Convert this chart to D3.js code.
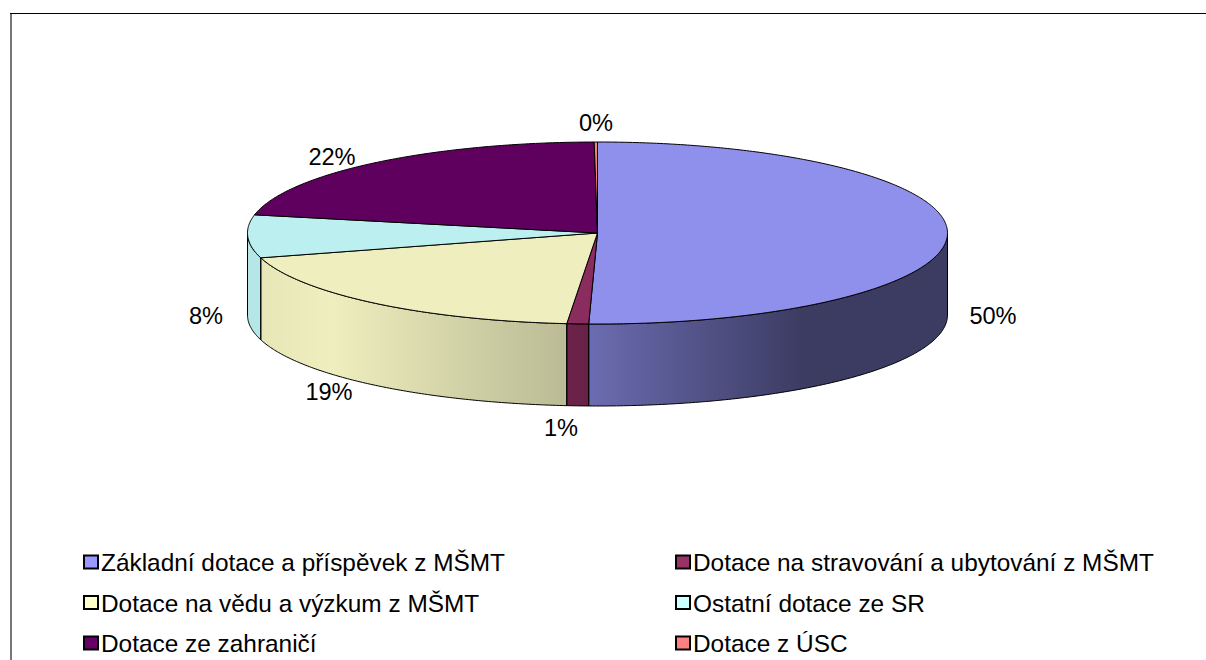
<!DOCTYPE html>
<html>
<head>
<meta charset="utf-8">
<script src="https://cdn.jsdelivr.net/npm/d3@7"></script>
<style>
body { margin: 0; background: #fff; }
svg { display: block; }
text { font-family: "Liberation Sans", Arial, sans-serif; font-size: 24.4px; fill: #000; }
text.label { font-size: 23.6px; }
</style>
</head>
<body>
<div id="chart"></div>
<script>
var width = 1206;
var height = 660;

var categories = ["Základní dotace a příspěvek z MŠMT", "Dotace na stravování a ubytování z MŠMT", "Dotace na vědu a výzkum z MŠMT", "Ostatní dotace ze SR", "Dotace ze zahraničí", "Dotace z ÚSC"];
var values = [50.4, 1.0, 19.2, 7.6, 21.65, 0.15];
var labels = ["50%", "1%", "19%", "8%", "22%", "0%"];
var colors = ["#8f8fec", "#8a2c5e", "#eeeebe", "#bcefef", "#5f005f", "#f97f72"];
var legendColors = ["#9999ff", "#993366", "#ffffcc", "#ccffff", "#660066", "#ff8080"];

var cx = 597.5, cy = 233, rx = 350, ry = 91, depth = 82;

var svg = d3.select("#chart").append("svg").attr("width", width).attr("height", height);

// chart frame, only top and left are visible in the picture
svg.append("line").attr("x1", 10).attr("x2", width).attr("y1", 13.5).attr("y2", 13.5).attr("stroke", "#000").attr("stroke-width", 1);
svg.append("line").attr("x1", 11).attr("x2", 11).attr("y1", 14).attr("y2", height).attr("stroke", "#777").attr("stroke-width", 2);

// shading of the rim, left is lit and right is dark
var defs = svg.append("defs");
var shade = defs.append("linearGradient").attr("id", "shade")
	.attr("gradientUnits", "userSpaceOnUse")
	.attr("x1", cx - rx).attr("x2", cx + rx).attr("y1", 0).attr("y2", 0);
shade.selectAll("stop")
	.data([[0, 0.04], [0.12, 0], [0.46, 0.22], [0.79, 0.58], [1, 0.58]])
	.enter()
	.append("stop")
	.attr("offset", function (d) { return d[0]; })
	.attr("stop-color", "#000")
	.attr("stop-opacity", function (d) { return d[1]; });

var arcs = d3.pie().sort(null).startAngle(0).endAngle(2 * Math.PI)(values);

function px(a) { return cx + rx * Math.sin(a); }
function py(a) { return cy - ry * Math.cos(a); }

function steps(a0, a1) {
	var n = Math.max(2, Math.ceil((a1 - a0) / 0.01));
	return d3.range(n + 1).map(function (i) { return a0 + (a1 - a0) * i / n; });
}

var line = d3.line();

function topPath(d) {
	var pts = steps(d.startAngle, d.endAngle).map(function (a) { return [px(a), py(a)]; });
	pts.unshift([cx, cy]);
	return line(pts) + "Z";
}

// rim only exists on the front half (pi/2 to 3pi/2)
function sidePath(d) {
	var a0 = Math.max(d.startAngle, Math.PI / 2);
	var a1 = Math.min(d.endAngle, 3 * Math.PI / 2);
	if (a1 <= a0) return null;
	var front = steps(a0, a1).map(function (a) { return [px(a), py(a)]; });
	var back = steps(a0, a1).reverse().map(function (a) { return [px(a), py(a) + depth]; });
	return line(front.concat(back)) + "Z";
}

var sides = arcs.filter(function (d) { return sidePath(d) !== null; });

svg.selectAll("path.side")
	.data(sides)
	.enter()
	.append("path")
	.attr("class", "side")
	.attr("d", sidePath)
	.attr("fill", function (d) { return colors[d.index]; });

svg.selectAll("path.shade")
	.data(sides)
	.enter()
	.append("path")
	.attr("class", "shade")
	.attr("d", sidePath)
	.attr("fill", "url(#shade)")
	.attr("stroke", "#000")
	.attr("stroke-width", 1);

svg.selectAll("path.top")
	.data(arcs)
	.enter()
	.append("path")
	.attr("class", "top")
	.attr("d", topPath)
	.attr("fill", function (d) { return colors[d.index]; })
	.attr("stroke", "#000")
	.attr("stroke-width", 1);

// data labels sit by hand picked offsets around the pie
var labelX = [993, 561, 329, 206, 332, 596];
var labelY = [324, 436, 400, 324, 165, 131];
svg.selectAll("text.label")
	.data(labels)
	.enter()
	.append("text")
	.attr("class", "label")
	.attr("text-anchor", "middle")
	.attr("x", function (d, i) { return labelX[i]; })
	.attr("y", function (d, i) { return labelY[i]; })
	.text(function (d) { return d; });

// legend, two columns
var legendX = d3.scaleOrdinal().domain([0, 1]).range([84, 676]);
var legendY = d3.scaleOrdinal().domain([0, 1, 2]).range([562, 602.5, 643]);

var legend = svg.selectAll("g.legend")
	.data(categories)
	.enter()
	.append("g")
	.attr("class", "legend")
	.attr("transform", function (d, i) {
		return "translate(" + legendX(i % 2) + "," + legendY(Math.floor(i / 2)) + ")";
	});

legend.append("rect")
	.attr("x", 0).attr("y", -6.5)
	.attr("width", 14).attr("height", 13)
	.attr("fill", function (d, i) { return legendColors[i]; })
	.attr("stroke", "#000")
	.attr("stroke-width", 2);

legend.append("text")
	.attr("x", 17)
	.attr("y", 9)
	.text(function (d) { return d; });
</script>
</body>
</html>
